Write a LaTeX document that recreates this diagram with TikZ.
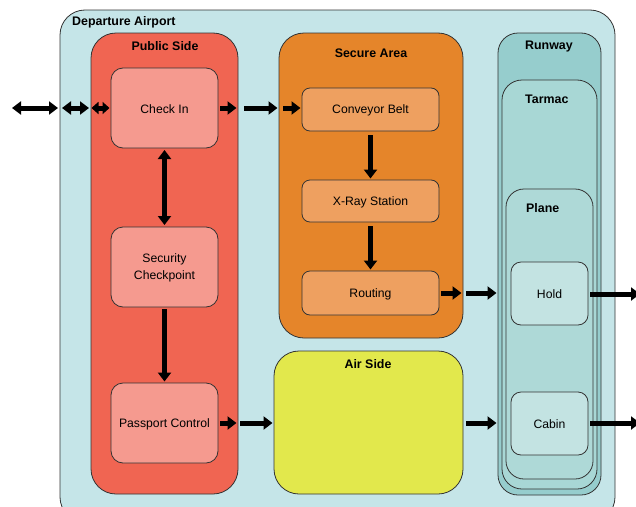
\documentclass[tikz,border=0pt]{standalone}
\usepackage{fontspec}
\setmainfont{Liberation Sans}
\usetikzlibrary{arrows.meta}
\definecolor{cAir}{HTML}{C5E5E8}
\definecolor{cPub}{HTML}{F06552}
\definecolor{cPubIn}{HTML}{F59A8F}
\definecolor{cSec}{HTML}{E5852A}
\definecolor{cSecIn}{HTML}{EEA060}
\definecolor{cAirSide}{HTML}{E2E84C}
\definecolor{cRun}{HTML}{96CDCD}
\definecolor{cTar}{HTML}{A8D7D5}
\definecolor{cPlane}{HTML}{AED9D7}
\definecolor{cHold}{HTML}{C3E3E2}
\tikzset{
  region/.style={draw=black!80, line width=0.8pt, rounded corners=#1, inner sep=0pt, outer sep=0pt, anchor=north west},
  region/.default=25pt,
  ttl/.style={font=\bfseries\fontsize{12.4}{14}\selectfont, inner sep=0pt},
  txt/.style={font=\fontsize{12.2}{17}\selectfont, align=center, inner sep=0pt},
  arr/.style={line width=5pt, -{Triangle[length=9pt,width=13pt]}, shorten <=2pt, shorten >=1.5pt},
  darr/.style={line width=5pt, {Triangle[length=9pt,width=13pt]}-{Triangle[length=9pt,width=13pt]}, shorten <=2pt, shorten >=2pt},
  sdarr/.style={line width=5pt, {Triangle[length=7pt,width=12pt]}-{Triangle[length=7pt,width=12pt]}, shorten <=0.5pt, shorten >=1.5pt},
}
\begin{document}
\begin{tikzpicture}[x=1pt,y=-1pt]
\useasboundingbox (0,0) rectangle (636,506);
\clip (0,0) rectangle (636,506);
% outer
\node[region, fill=cAir, minimum width=555pt, minimum height=512pt] (airport) at (60,10) {};
\node[ttl, anchor=west] at (72,22) {Departure Airport};
% public side
\node[region, fill=cPub, minimum width=147pt, minimum height=461pt] (public) at (91,33) {};
\node[ttl] at (165,46) {Public Side};
\node[region=12pt, fill=cPubIn, minimum width=107pt, minimum height=80pt] (checkin) at (111,68) {};
\node[txt] at ([yshift=-1pt]checkin.center) {Check In};
\node[region=12pt, fill=cPubIn, minimum width=107pt, minimum height=80pt] (security) at (111,227) {};
\node[txt] at ([yshift=-1pt]security.center) {Security\\Checkpoint};
\node[region=12pt, fill=cPubIn, minimum width=107pt, minimum height=80pt] (passport) at (111,383) {};
\node[txt] at ([yshift=-1pt]passport.center) {Passport Control};
% secure area
\node[region, fill=cSec, minimum width=184pt, minimum height=305pt] (secure) at (279,33) {};
\node[ttl] at (371,53) {Secure Area};
\node[region=8pt, fill=cSecIn, minimum width=137pt, minimum height=43pt] (conveyor) at (302,88) {};
\node[txt] at ([yshift=-1pt]conveyor.center) {Conveyor Belt};
\node[region=8pt, fill=cSecIn, minimum width=137pt, minimum height=42pt] (xray) at (302,180) {};
\node[txt] at ([yshift=-1pt]xray.center) {X-Ray Station};
\node[region=8pt, fill=cSecIn, minimum width=137pt, minimum height=44pt] (routing) at (302,271) {};
\node[txt] at ([yshift=-1pt]routing.center) {Routing};
% air side
\node[region, fill=cAirSide, minimum width=189pt, minimum height=143pt] (airside) at (274,351) {};
\node[ttl] at (368,364) {Air Side};
% runway / tarmac / plane
\node[region=20pt, fill=cRun, minimum width=103pt, minimum height=462pt] (runway) at (498,33) {};
\node[ttl, anchor=west] at (525,47) {Runway};
\node[region=20pt, fill=cTar, minimum width=95pt, minimum height=409pt] (tarmac) at (502,80) {};
\node[ttl, anchor=west] at (525,99) {Tarmac};
\node[region=18pt, fill=cPlane, minimum width=87pt, minimum height=290pt] (plane) at (506,189) {};
\node[ttl, anchor=west] at (526,208) {Plane};
\node[region=10pt, fill=cHold, minimum width=77pt, minimum height=63pt] (hold) at (511,262) {};
\node[txt] at ([yshift=-1pt]hold.center) {Hold};
\node[region=10pt, fill=cHold, minimum width=77pt, minimum height=63pt] (cabin) at (511,392) {};
\node[txt] at ([yshift=-1pt]cabin.center) {Cabin};
% connectors
\coordinate (outside) at (10,108);
\draw[darr] (outside) -- (airport.west |- outside);
\draw[darr] (airport.west |- outside) -- (public.west |- outside);
\draw[sdarr] (public.west |- outside) -- (checkin.west |- outside);
\draw[arr] (checkin.east |- outside) -- (public.east |- outside);
\draw[arr, shorten <=6pt] (public.east |- outside) -- (secure.west |- outside);
\draw[arr, shorten <=4pt] (secure.west |- outside) -- (conveyor.west |- outside);
\draw[darr] (checkin.south) -- (security.north);
\draw[arr] (security.south) -- (passport.north);
\draw[arr, shorten <=4pt] (conveyor.south) -- (xray.north);
\draw[arr, shorten <=4pt] (xray.south) -- (routing.north);
\coordinate (rowA) at (0,293);
\draw[arr] (routing.east |- rowA) -- (secure.east |- rowA);
\draw[arr, shorten <=3pt] (secure.east |- rowA) -- (runway.west |- rowA);
\coordinate (rowH) at (0,294);
\coordinate (outH) at (640,294);
\draw[arr, shorten >=0pt] (hold.east |- rowH) -- (outH);
\coordinate (rowB) at (0,423);
\coordinate (outC) at (640,423);
\draw[arr] (passport.east |- rowB) -- (public.east |- rowB);
\draw[arr] (public.east |- rowB) -- (airside.west |- rowB);
\draw[arr, shorten <=3pt] (airside.east |- rowB) -- (runway.west |- rowB);
\draw[arr, shorten >=0pt] (cabin.east |- rowB) -- (outC);
\end{tikzpicture}
\end{document}
